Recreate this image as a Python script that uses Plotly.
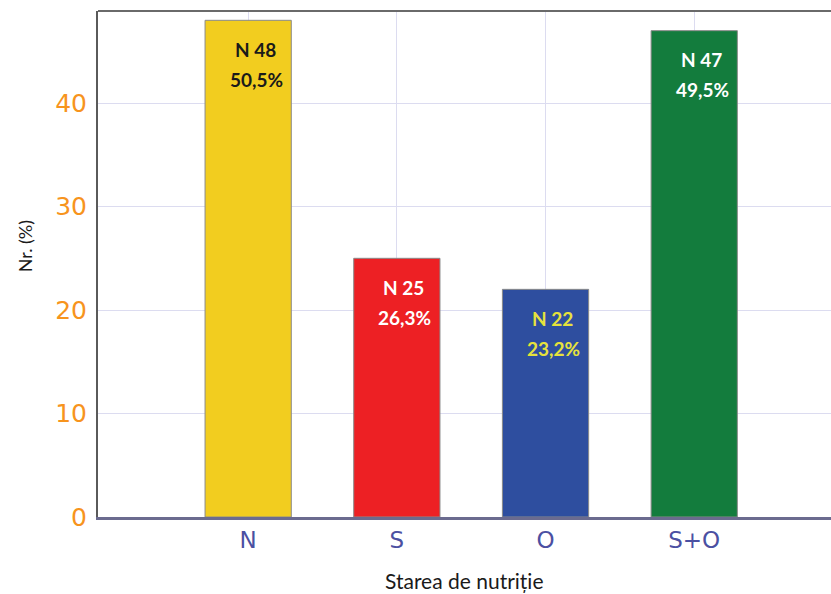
import plotly.graph_objects as go

categories = ["N", "S", "O", "S+O"]
counts = [48, 25, 22, 47]
percents = ["50,5%", "26,3%", "23,2%", "49,5%"]
bar_colors = ["#f2cd1f", "#ed2024", "#2e4e9f", "#137c3d"]
label_colors = ["#1a1a1a", "#ffffff", "#e6e23c", "#ffffff"]
y_ticks = [0, 10, 20, 30, 40]

fig = go.Figure()
fig.add_trace(go.Bar(
    x=categories, y=counts,
    marker=dict(color=bar_colors, line=dict(color="#8a8a8a", width=1)),
    width=0.58,
    hoverinfo="skip",
))

annotations = []
for cat, n, pct, col in zip(categories, counts, percents, label_colors):
    annotations.append(dict(x=cat, y=n, xref="x", yref="y", text=f"<b>N {n}</b>",
                            showarrow=False, yanchor="middle", yshift=-29, xshift=7,
                            font=dict(family="Lato", size=19, color=col)))
    annotations.append(dict(x=cat, y=n, xref="x", yref="y", text=f"<b>{pct}</b>",
                            showarrow=False, yanchor="middle", yshift=-59, xshift=8,
                            font=dict(family="Lato", size=19, color=col)))

annotations.append(dict(x=0.5, y=-0.125, xref="paper", yref="paper", text="Starea de nutriție",
                        showarrow=False, yanchor="middle",
                        font=dict(family="Lato", size=21, color="#1a1a1a")))
annotations.append(dict(x=-0.0996, y=0.535, xref="paper", yref="paper", text="Nr. (%)",
                        showarrow=False, textangle=-90, xanchor="center", yanchor="middle",
                        font=dict(family="Lato", size=18, color="#1a1a1a")))

fig.update_layout(
    width=831, height=594,
    margin=dict(l=98, r=0, t=11, b=77),
    plot_bgcolor="white", paper_bgcolor="white",
    showlegend=False,
    annotations=annotations,
    shapes=[dict(type="line", xref="paper", yref="paper", x0=0, x1=1, y0=1, y1=1,
                 line=dict(color="#6a6a6a", width=2))],
    xaxis=dict(
        range=[-1.01, 3.92],
        showgrid=True, gridcolor="#dcdcf0", gridwidth=1,
        showline=True, linecolor="#6b6b8f", linewidth=3,
        tickfont=dict(family="DejaVu Sans", size=23, color="#4b50a2"),
        ticks="", ticklabelstandoff=0,
        zeroline=False,
    ),
    yaxis=dict(
        range=[0, 48.9],
        tickvals=y_ticks,
        showgrid=True, gridcolor="#dcdcf0", gridwidth=1,
        showline=True, linecolor="#5a5a5a", linewidth=2,
        tickfont=dict(family="DejaVu Sans", size=25, color="#f7941d"),
        ticks="", ticklabelstandoff=4,
        zeroline=False,
    ),
)

fig.write_html("out.html")
